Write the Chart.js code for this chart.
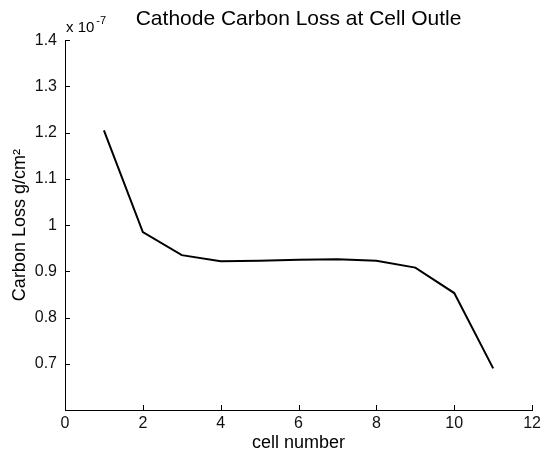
<!DOCTYPE html>
<html>
<head>
<meta charset="utf-8">
<script src="https://cdn.jsdelivr.net/npm/chart.js@4/dist/chart.umd.min.js"></script>
<style>
  html, body { margin: 0; padding: 0; background: #fff; }
  #wrap { width: 545px; height: 455px; }
</style>
</head>
<body>
<div id="wrap"><canvas id="chart" width="545" height="455"></canvas></div>
<script>
// cell numbers along the stack
const cellNumbers = [1, 2, 3, 4, 5, 6, 7, 8, 9, 10, 11];
// carbon loss in units of 1e-7 g/cm^2
const carbonLoss = [1.205, 0.985, 0.935, 0.922, 0.923, 0.925, 0.926, 0.923, 0.908, 0.853, 0.69];
// axis ticks
const xTicks = [0, 2, 4, 6, 8, 10, 12];
const yTicks = [0.6, 0.7, 0.8, 0.9, 1.0, 1.1, 1.2, 1.3, 1.4];
const yTickLabels = ["", "0.7", "0.8", "0.9", "1", "1.1", "1.2", "1.3", "1.4"];
const yExponent = "-7";

const FONT = "'Liberation Sans', Arial, Helvetica, sans-serif";

// inward tick marks + the "x 10^-7" multiplier (matlab style)
const matlabAxes = {
  id: "matlabAxes",
  afterDraw(chart) {
    const { ctx, chartArea, scales } = chart;
    const len = 5;
    ctx.save();
    ctx.strokeStyle = "#000";
    ctx.lineWidth = 1;
    ctx.beginPath();
    scales.x.ticks.forEach((t, i) => {
      const px = Math.round(scales.x.getPixelForTick(i)) + 0.5;
      ctx.moveTo(px, chartArea.bottom);
      ctx.lineTo(px, chartArea.bottom - len);
    });
    scales.y.ticks.forEach((t, i) => {
      const py = Math.round(scales.y.getPixelForTick(i)) + 0.5;
      ctx.moveTo(chartArea.left, py);
      ctx.lineTo(chartArea.left + len, py);
    });
    ctx.stroke();

    ctx.fillStyle = "#000";
    ctx.textBaseline = "alphabetic";
    ctx.textAlign = "left";
    ctx.font = "15px " + FONT;
    const base = "x 10";
    ctx.fillText(base, chartArea.left + 1, chartArea.top - 8);
    const w = ctx.measureText(base).width;
    ctx.font = "11px " + FONT;
    ctx.fillText(yExponent, chartArea.left + w + 3, chartArea.top - 16);
    ctx.restore();
  }
};

const ctx = document.getElementById("chart");
new Chart(ctx, {
  type: "line",
  data: {
    labels: cellNumbers,
    datasets: [{
      data: cellNumbers.map((c, i) => ({ x: c, y: carbonLoss[i] })),
      borderColor: "#000",
      borderWidth: 2,
      pointRadius: 0,
      tension: 0,
      fill: false
    }]
  },
  options: {
    responsive: false,
    animation: false,
    layout: { padding: { left: 0, right: 12, top: 0, bottom: 0 } },
    plugins: {
      legend: { display: false },
      tooltip: { enabled: false },
      title: {
        display: true,
        fullSize: false,
        text: "Cathode Carbon Loss at Cell Outle",
        color: "#000",
        font: { family: FONT, size: 21, weight: "normal" },
        padding: { top: 7, bottom: 8 }
      }
    },
    scales: {
      x: {
        type: "linear",
        min: 0,
        max: 12,
        afterBuildTicks: (scale) => { scale.ticks = xTicks.map(v => ({ value: v })); },
        afterFit: (scale) => { scale.height = 45; },
        grid: { drawOnChartArea: false, drawTicks: false },
        border: { display: true, color: "#000", width: 1 },
        ticks: {
          color: "#111",
          padding: 4,
          maxRotation: 0,
          font: { family: FONT, size: 16 },
          callback: (v) => String(v)
        },
        title: {
          display: true,
          text: "cell number",
          color: "#000",
          font: { family: FONT, size: 18 },
          padding: { top: 0, bottom: 1 }
        }
      },
      y: {
        type: "linear",
        min: 0.6,
        max: 1.4,
        afterBuildTicks: (scale) => { scale.ticks = yTicks.map(v => ({ value: v })); },
        afterFit: (scale) => { scale.width = 65; },
        grid: { drawOnChartArea: false, drawTicks: false },
        border: { display: true, color: "#000", width: 1 },
        ticks: {
          color: "#111",
          padding: 8,
          font: { family: FONT, size: 16 },
          callback: function(value, index) { return yTickLabels[index]; }
        },
        title: {
          display: true,
          text: "Carbon Loss g/cm²",
          color: "#000",
          font: { family: FONT, size: 18 },
          padding: { top: 9, bottom: 0 }
        }
      }
    }
  },
  plugins: [matlabAxes]
});
</script>
</body>
</html>
